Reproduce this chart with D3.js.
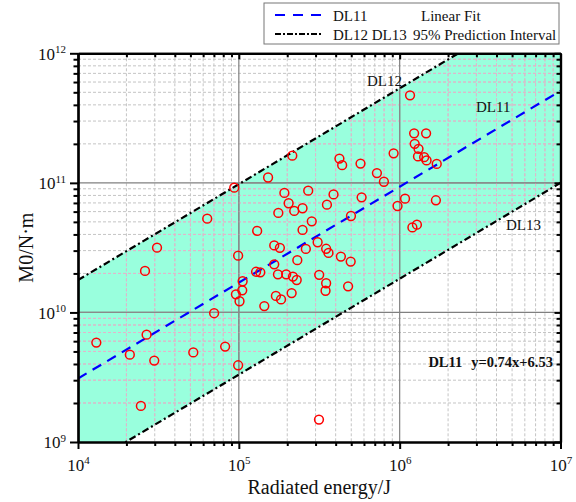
<!DOCTYPE html>
<html>
<head>
<meta charset="utf-8">
<script src="https://cdn.jsdelivr.net/npm/d3@7"></script>
<style>
  html, body { margin: 0; padding: 0; background: #fff; }
  svg { display: block; }
  text { font-family: "Liberation Serif", "Times New Roman", serif; fill: #111; }
</style>
</head>
<body>
<svg id="chart" width="576" height="502"></svg>
<script>
// Radiated energy (J) and seismic moment M0 (N·m) of each event
const energy = [
  1.30e4, 2.10e4, 2.46e4, 2.67e4, 2.98e4, 3.10e4, 2.61e4, 5.21e4, 6.36e4, 7.02e4,
  8.22e4, 9.36e4, 9.59e4, 9.90e4, 9.90e4, 1.01e5, 1.05e5, 1.056e5, 1.28e5, 1.36e5,
  1.30e5, 1.44e5, 1.52e5, 1.66e5, 1.80e5, 1.66e5, 1.70e5, 1.83e5, 1.75e5, 1.76e5,
  1.92e5, 1.97e5, 2.04e5, 2.13e5, 2.15e5, 2.17e5, 2.21e5, 2.29e5, 2.31e5, 2.49e5,
  2.49e5, 2.61e5, 2.70e5, 2.84e5, 3.09e5, 3.16e5, 3.15e5, 3.49e5, 3.46e5, 3.49e5,
  3.53e5, 3.61e5, 3.88e5, 4.22e5, 4.39e5, 4.31e5, 4.78e5, 4.98e5, 4.96e5, 5.71e5,
  5.80e5, 7.22e5, 7.98e5, 9.17e5, 9.70e5, 1.08e6, 1.16e6, 1.20e6, 1.23e6, 1.24e6,
  1.28e6, 1.31e6, 1.30e6, 1.42e6, 1.46e6, 1.47e6, 1.68e6, 1.70e6
];
const moment = [
  5.85e9, 4.72e9, 1.90e9, 6.74e9, 4.25e9, 3.16e10, 2.09e10, 4.91e9, 5.29e10, 9.86e9,
  5.45e9, 9.18e10, 1.38e10, 2.74e10, 3.91e9, 1.22e10, 1.48e10, 1.74e10, 2.06e10, 2.04e10,
  4.26e10, 1.12e10, 1.10e11, 3.29e10, 3.15e10, 2.35e10, 1.34e10, 1.26e10, 1.97e10, 5.86e10,
  8.36e10, 1.97e10, 6.96e10, 1.41e10, 1.62e11, 1.89e10, 6.07e10, 1.78e10, 2.53e10, 6.37e10,
  4.33e10, 3.09e10, 8.71e10, 5.05e10, 3.48e10, 1.95e10, 1.49e9, 1.68e10, 1.47e10, 3.10e10,
  6.79e10, 2.88e10, 8.14e10, 1.54e11, 1.37e11, 2.70e10, 1.59e10, 5.55e10, 2.47e10, 1.41e11,
  7.74e10, 1.19e11, 1.02e11, 1.69e11, 6.63e10, 7.55e10, 4.74e11, 4.53e10, 2.41e11, 2.00e11,
  4.76e10, 1.83e11, 1.60e11, 1.58e11, 2.41e11, 1.49e11, 7.34e10, 1.40e11
];

// log10(M0) = slope * log10(E) + intercept
const fitSlope = 0.74;
const fitIntercept = 6.53;          // DL11 linear fit
const upperIntercept = 7.29;        // DL12 upper 95% prediction bound
const lowerIntercept = 5.82;        // DL13 lower 95% prediction bound

const xDecades = [4, 5, 6, 7];
const yDecades = [9, 10, 11, 12];
const minorSteps = [2, 3, 4, 5, 6, 7, 8, 9];

const legendItems = [
  { name: "DL11", desc: "Linear Fit", kind: "fit" },
  { name: "DL12 DL13", desc: "95% Prediction Interval", kind: "pi" }
];

const fitLabel = "y=0.74x+6.53";

const SERIF = "Liberation Serif, Times New Roman, serif";

// ---- layout ----
const svg = d3.select("#chart");
const L = 78, R = 560.5, T = 53.3, B = 442;

const x = d3.scaleLog().domain([1e4, 1e7]).range([L, R]);
const y = d3.scaleLog().domain([1e9, 1e12]).range([B, T]);

const majorX = xDecades.map(e => Math.pow(10, e));
const majorY = yDecades.map(e => Math.pow(10, e));
const minorOf = decs => decs.slice(0, -1).flatMap(e => minorSteps.map(m => m * Math.pow(10, e)));
const minorX = minorOf(xDecades);
const minorY = minorOf(yDecades);

const lineFn = b => xv => Math.pow(10, fitSlope * Math.log10(xv) + b);
const xEnds = x.domain();

svg.append("defs").append("clipPath").attr("id", "plotClip")
  .append("rect").attr("x", L).attr("y", T).attr("width", R - L).attr("height", B - T);

const plot = svg.append("g").attr("clip-path", "url(#plotClip)");

// prediction band fill
const band = d3.area()
  .x(d => x(d))
  .y0(d => y(lineFn(lowerIntercept)(d)))
  .y1(d => y(lineFn(upperIntercept)(d)));
const bandPath = band(xEnds);
plot.append("path").attr("d", bandPath).attr("fill", "#99ffdd");

svg.select("defs").append("clipPath").attr("id", "bandClip")
  .append("path").attr("d", bandPath);

// grid
function drawGrid(g, minorColor, majorColor) {
  g.append("g").selectAll("line").data(minorX).join("line")
    .attr("x1", d => x(d)).attr("x2", d => x(d)).attr("y1", T).attr("y2", B)
    .attr("stroke", minorColor).attr("stroke-width", 1).attr("stroke-dasharray", "3,2");
  g.append("g").selectAll("line").data(minorY).join("line")
    .attr("y1", d => y(d)).attr("y2", d => y(d)).attr("x1", L).attr("x2", R)
    .attr("stroke", minorColor).attr("stroke-width", 1).attr("stroke-dasharray", "3,2");
  g.append("g").selectAll("line").data(majorX.slice(1, -1)).join("line")
    .attr("x1", d => x(d)).attr("x2", d => x(d)).attr("y1", T).attr("y2", B)
    .attr("stroke", majorColor).attr("stroke-width", 1.2);
  g.append("g").selectAll("line").data(majorY.slice(1, -1)).join("line")
    .attr("y1", d => y(d)).attr("y2", d => y(d)).attr("x1", L).attr("x2", R)
    .attr("stroke", majorColor).attr("stroke-width", 1.2);
}
drawGrid(plot.append("g"), "#c4c4c4", "#808080");
drawGrid(plot.append("g").attr("clip-path", "url(#bandClip)"), "#e4b4cc", "#8a8a8a");

// fit and prediction lines
const straight = b => d3.line().x(d => x(d)).y(d => y(lineFn(b)(d)))(xEnds);
plot.append("path").attr("d", straight(upperIntercept))
  .attr("fill", "none").attr("stroke", "#000").attr("stroke-width", 2.2)
  .attr("stroke-dasharray", "7,3,2,3");
plot.append("path").attr("d", straight(lowerIntercept))
  .attr("fill", "none").attr("stroke", "#000").attr("stroke-width", 2.2)
  .attr("stroke-dasharray", "7,3,2,3");
plot.append("path").attr("d", straight(fitIntercept))
  .attr("fill", "none").attr("stroke", "#0000ff").attr("stroke-width", 2.2)
  .attr("stroke-dasharray", "10,7");

// data points
svg.append("g").selectAll("circle").data(energy.map((e, i) => [e, moment[i]])).join("circle")
  .attr("cx", d => x(d[0])).attr("cy", d => y(d[1])).attr("r", 4.4)
  .attr("fill", "none").attr("stroke", "#ff0000").attr("stroke-width", 1.5);

// ---- axes ----
function styleAxis(g) {
  g.attr("font-family", SERIF);
  g.select(".domain").attr("stroke", "#000").attr("stroke-width", 2.2);
  g.selectAll(".tick line").attr("stroke", "#000").attr("stroke-width", 2);
}
function powerLabels(g) {
  g.selectAll(".tick text").each(function (d) {
    const t = d3.select(this);
    const e = Math.round(Math.log10(d));
    t.text(null);
    t.append("tspan").text("10");
    t.append("tspan").attr("dy", "-0.6em").attr("font-size", "11px").text(e);
  }).attr("font-size", "17px").attr("font-family", SERIF).attr("fill", "#111");
}

// bottom
svg.append("g").attr("transform", `translate(0,${B})`)
  .call(d3.axisBottom(x).tickValues(minorX).tickSize(4).tickSizeOuter(0).tickFormat(""))
  .call(styleAxis);
svg.append("g").attr("transform", `translate(0,${B})`)
  .call(d3.axisBottom(x).tickValues(majorX).tickSize(7).tickSizeOuter(0).tickPadding(16))
  .call(styleAxis).call(powerLabels)
  .call(g => g.selectAll(".tick text").attr("dy", "0.35em"));
// top (inner ticks)
svg.append("g").attr("transform", `translate(0,${T})`)
  .call(d3.axisBottom(x).tickValues(minorX).tickSize(4).tickSizeOuter(0).tickFormat(""))
  .call(styleAxis);
svg.append("g").attr("transform", `translate(0,${T})`)
  .call(d3.axisBottom(x).tickValues(majorX).tickSize(6).tickSizeOuter(0).tickFormat(""))
  .call(styleAxis);
// left
svg.append("g").attr("transform", `translate(${L},0)`)
  .call(d3.axisLeft(y).tickValues(minorY).tickSize(4.5).tickSizeOuter(0).tickFormat(""))
  .call(styleAxis);
svg.append("g").attr("transform", `translate(${L},0)`)
  .call(d3.axisLeft(y).tickValues(majorY).tickSize(8).tickSizeOuter(0).tickPadding(4))
  .call(styleAxis).call(powerLabels)
  .call(g => g.selectAll(".tick text").attr("dy", "0.35em"));
// right (inner ticks)
svg.append("g").attr("transform", `translate(${R},0)`)
  .call(d3.axisLeft(y).tickValues(minorY).tickSize(4).tickSizeOuter(0).tickFormat(""))
  .call(styleAxis);
svg.append("g").attr("transform", `translate(${R},0)`)
  .call(d3.axisLeft(y).tickValues(majorY).tickSize(6).tickSizeOuter(0).tickFormat(""))
  .call(styleAxis);

// axis titles
svg.append("text").attr("x", (L + R) / 2).attr("y", 494)
  .attr("text-anchor", "middle").attr("font-size", "20px").text("Radiated energy/J");
svg.append("text").attr("transform", `translate(33,${(T + B) / 2}) rotate(-90)`)
  .attr("text-anchor", "middle").attr("font-size", "20px").text("M0/N·m");

// line labels
svg.append("text").attr("x", 367).attr("y", 86).attr("font-size", "15px").text("DL12");
svg.append("text").attr("x", 476).attr("y", 112).attr("font-size", "15px").text("DL11");
svg.append("text").attr("x", 506).attr("y", 229.5).attr("font-size", "15px").text("DL13");
const eq = svg.append("text").attr("x", 553).attr("y", 367).attr("text-anchor", "end")
  .attr("font-size", "14.5px").attr("font-weight", "bold");
eq.append("tspan").text("DL11");
eq.append("tspan").attr("dx", "9").text(fitLabel);

// legend
const lg = svg.append("g");
lg.append("rect").attr("x", 264).attr("y", 3).attr("width", 295).attr("height", 41)
  .attr("fill", "#fff").attr("stroke", "#777").attr("stroke-width", 1);
const rowY = [15, 34];
const descX = [421, 413];
legendItems.forEach((it, i) => {
  lg.append("line").attr("x1", 275).attr("x2", 322).attr("y1", rowY[i]).attr("y2", rowY[i])
    .attr("stroke", it.kind === "fit" ? "#0000ff" : "#000").attr("stroke-width", 2.2)
    .attr("stroke-dasharray", it.kind === "fit" ? "10,8" : "6,2,2,2");
  lg.append("text").attr("x", 333).attr("y", rowY[i] + 5.5).attr("font-size", "15px").text(it.name);
  lg.append("text").attr("x", descX[i]).attr("y", rowY[i] + 5.5).attr("font-size", "15px").text(it.desc);
});

svg.selectAll("text").attr("font-family", SERIF);
</script>
</body>
</html>
